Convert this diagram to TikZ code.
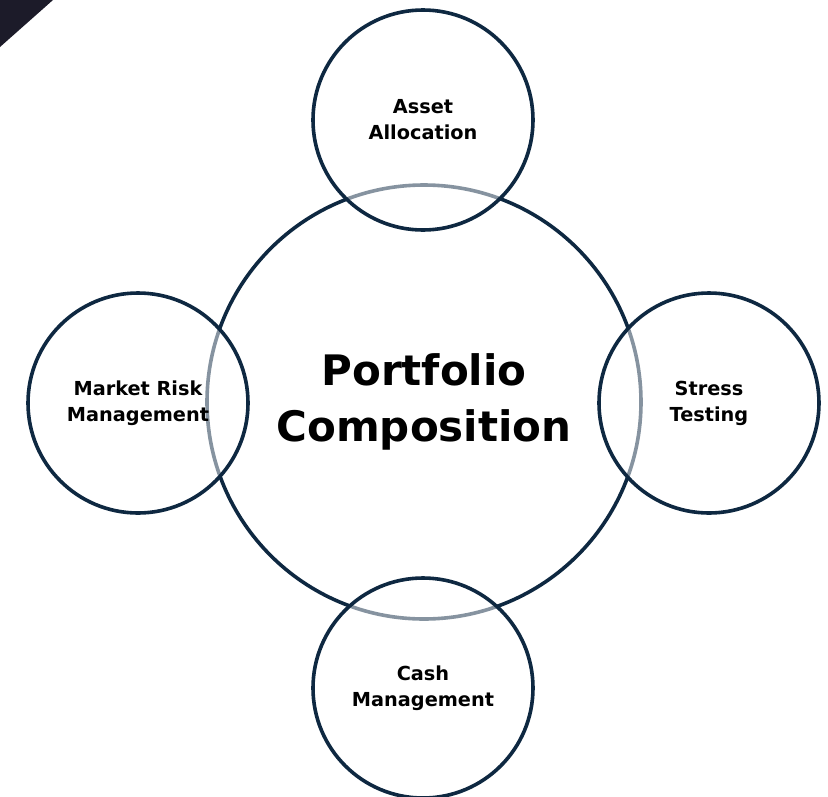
\documentclass[tikz,border=0pt]{standalone}
\usepackage{fontspec}
\setmainfont{DejaVu Sans}
\definecolor{navy}{HTML}{0E2841}
\definecolor{cornerdark}{HTML}{1C1B29}
\tikzset{
  bigcirc/.style={circle, draw=navy, line width=3.6pt, minimum size=434pt, inner sep=0pt, align=center,
    font=\bfseries\fontsize{42}{56}\selectfont},
  smallcirc/.style={circle, draw=navy, line width=3.6pt, minimum size=220pt, inner sep=0pt, align=center,
    fill=white, fill opacity=0.5, text opacity=1,
    font=\bfseries\fontsize{19.3}{26}\selectfont}
}
\begin{document}
\begin{tikzpicture}[x=1pt,y=-1pt]
\useasboundingbox (0,0) rectangle (828,796);
\fill[cornerdark] (0,0) -- (53,0) -- (0,47) -- cycle;
\node[bigcirc] (main) at (424,402) {Portfolio\\Composition};
\node[smallcirc] (asset) at (423,120) {Asset\\Allocation};
\node[smallcirc] (market) at (138,403) {Market Risk\\Management};
\node[smallcirc] (stress) at (709,403) {Stress\\Testing};
\node[smallcirc] (cash) at (423,688) {Cash\\Management};
\end{tikzpicture}
\end{document}
